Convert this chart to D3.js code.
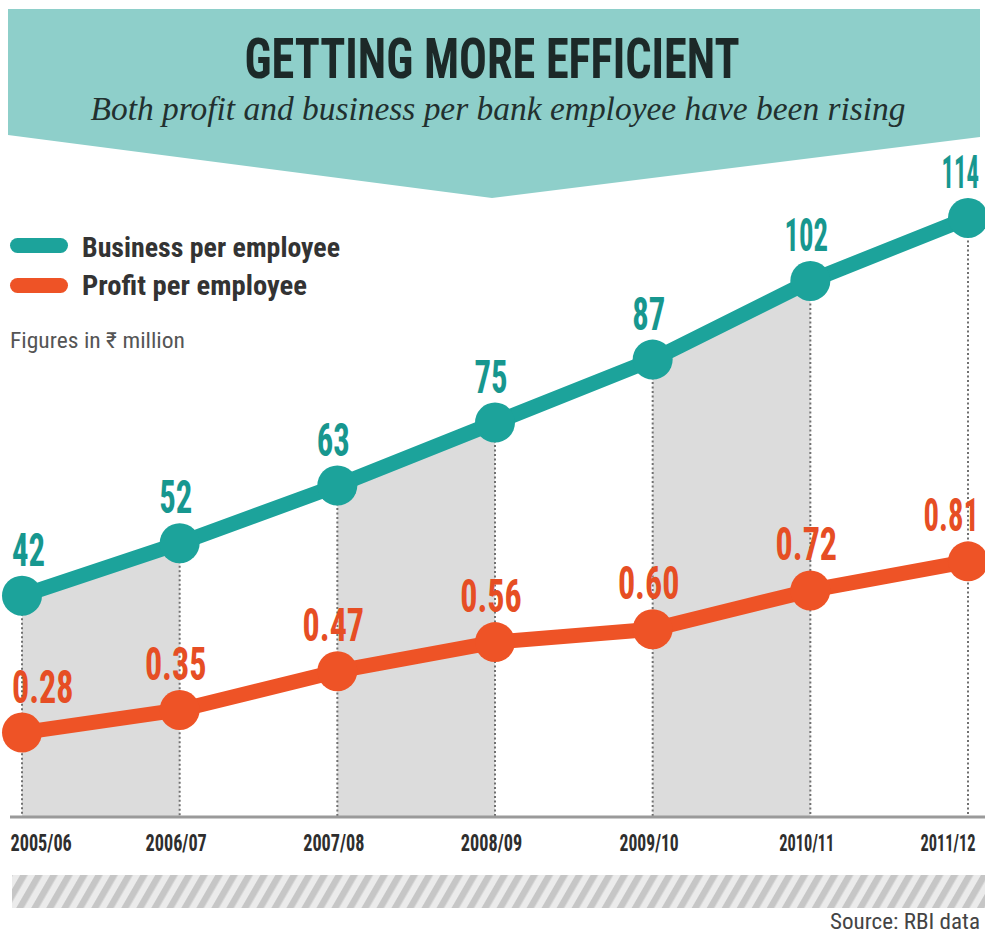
<!DOCTYPE html>
<html>
<head>
<meta charset="utf-8">
<script src="https://cdn.jsdelivr.net/npm/d3@7/dist/d3.min.js"></script>
<style>
  html, body { margin: 0; padding: 0; background: #ffffff; }
  svg { display: block; }
</style>
</head>
<body>
<div id="chart"></div>
<script>
// Financial years on the x axis
const years = ['2005/06', '2006/07', '2007/08', '2008/09', '2009/10', '2010/11', '2011/12'];
// Business per employee, ₹ million
const businessPerEmployee = [42, 52, 63, 75, 87, 102, 114];
// Profit per employee, ₹ million
const profitPerEmployee = [0.28, 0.35, 0.47, 0.56, 0.60, 0.72, 0.81];

const seriesNames = ['Business per employee', 'Profit per employee'];
const titleText = 'GETTING MORE EFFICIENT';
const subtitleText = 'Both profit and business per bank employee have been rising';
const unitNote = 'Figures in ₹ million';
const sourceText = 'Source: RBI data';

const W = 985, H = 933;
const TEAL = '#1ca39b', TEAL_TXT = '#17978f', ORANGE = '#ee5326', ORANGE_TXT = '#e64e24';
const BANNER = '#8ecfca';
const NARROW = "'Liberation Sans Narrow', 'Roboto Condensed', 'DejaVu Sans Condensed', 'Liberation Sans', sans-serif";

const baseY = 816;

const svg = d3.select('#chart').append('svg')
  .attr('width', W).attr('height', H)
  .attr('viewBox', `0 0 ${W} ${H}`);

const defs = svg.append('defs');
const hatch = defs.append('pattern')
  .attr('id', 'hatch')
  .attr('patternUnits', 'userSpaceOnUse')
  .attr('width', 13).attr('height', 13)
  .attr('patternTransform', 'rotate(30)');
hatch.append('rect').attr('width', 13).attr('height', 13).attr('fill', '#ebebeb');
hatch.append('rect').attr('width', 6.5).attr('height', 13).attr('fill', '#c6c6c6');

// Scales
const x = d3.scalePoint().domain(years).range([22, 968]);
const yBiz = d3.scaleLinear().domain([0, 120]).range([baseY, 186.5]);
const yProfit = d3.scaleLinear().domain([0, 1]).range([823, 500]);

// Approximate glyph widths for fitting condensed text to a set length
function fitLen(str, w) {
  let s = 0;
  for (const ch of str) s += (w[ch] !== undefined ? w[ch] : w.def);
  return s;
}
const labelW = { def: 16.5, '1': 10.5, '.': 12 };
const tickW = { def: 9.3, '1': 7.2, '/': 5.5 };

// Banner
const bannerPts = [[8, 9], [980, 9], [980, 137], [492, 198], [8, 135]];
svg.append('path')
  .attr('d', d3.line()(bannerPts) + 'Z')
  .attr('fill', BANNER);

svg.append('text')
  .attr('x', 492).attr('y', 78)
  .attr('text-anchor', 'middle')
  .attr('font-family', NARROW)
  .attr('font-weight', 'bold')
  .attr('font-size', 55)
  .attr('fill', '#1c2928')
  .attr('textLength', 495)
  .attr('lengthAdjust', 'spacingAndGlyphs')
  .text(titleText);

svg.append('text')
  .attr('x', 498).attr('y', 120)
  .attr('text-anchor', 'middle')
  .attr('font-family', "'Liberation Serif', 'DejaVu Serif', serif")
  .attr('font-style', 'italic')
  .attr('font-size', 34)
  .attr('fill', '#22302f')
  .attr('textLength', 815)
  .attr('lengthAdjust', 'spacingAndGlyphs')
  .text(subtitleText);

// Legend
const legend = svg.append('g');
const legendRows = [
  { name: seriesNames[0], color: TEAL, cy: 245.5, base: 257, len: 258 },
  { name: seriesNames[1], color: ORANGE, cy: 285.5, base: 295, len: 225 }
];
legendRows.forEach(r => {
  legend.append('rect')
    .attr('x', 10).attr('y', r.cy - 7.5)
    .attr('width', 58).attr('height', 15)
    .attr('rx', 7.5)
    .attr('fill', r.color);
  legend.append('text')
    .attr('x', 82).attr('y', r.base)
    .attr('font-family', NARROW)
    .attr('font-weight', 'bold')
    .attr('font-size', 27)
    .attr('fill', '#333333')
    .attr('textLength', r.len)
    .attr('lengthAdjust', 'spacingAndGlyphs')
    .text(r.name);
});
legend.append('text')
  .attr('x', 10).attr('y', 348)
  .attr('font-family', NARROW)
  .attr('font-size', 22)
  .attr('fill', '#555555')
  .attr('textLength', 175)
  .attr('lengthAdjust', 'spacingAndGlyphs')
  .text(unitNote);

// Alternate shaded bands under the business line
const bizData = years.map((yr, i) => ({ yr, v: businessPerEmployee[i] }));
const profData = years.map((yr, i) => ({ yr, v: profitPerEmployee[i] }));
const band = d3.area()
  .x(d => x(d.yr))
  .y0(baseY)
  .y1(d => yBiz(d.v));
[0, 2, 4].forEach(i => {
  svg.append('path')
    .attr('d', band(bizData.slice(i, i + 2)))
    .attr('fill', '#dcdcdc');
});

// Dotted drop lines
svg.append('g').selectAll('line')
  .data(bizData)
  .join('line')
  .attr('x1', d => x(d.yr)).attr('x2', d => x(d.yr))
  .attr('y1', d => yBiz(d.v)).attr('y2', baseY)
  .attr('stroke', '#707070')
  .attr('stroke-width', 2)
  .attr('stroke-dasharray', '2 2.5');

// Axis
svg.append('line')
  .attr('x1', 10).attr('x2', 985)
  .attr('y1', baseY + 1).attr('y2', baseY + 1)
  .attr('stroke', '#9a9a9a')
  .attr('stroke-width', 3);

const axis = svg.append('g')
  .attr('transform', `translate(0, ${baseY})`)
  .call(d3.axisBottom(x).tickSize(0).tickPadding(0));
axis.select('.domain').remove();
axis.selectAll('.tick text')
  .attr('dy', null)
  .attr('y', 35)
  .attr('font-family', NARROW)
  .attr('font-weight', 'bold')
  .attr('font-size', 23)
  .attr('fill', '#2e2e2e')
  .attr('textLength', d => fitLen(d, tickW))
  .attr('lengthAdjust', 'spacingAndGlyphs')
  .each(function (d, i) {
    const t = d3.select(this);
    const last = years.length - 1;
    if (i === 0) t.attr('text-anchor', 'start').attr('x', 10 - x(d));
    else if (i === last) t.attr('text-anchor', 'end').attr('x', 975 - x(d));
    else t.attr('text-anchor', 'middle').attr('x', -4);
  });

// Lines and markers
const seriesDefs = [
  { data: bizData, y: yBiz, color: TEAL, txt: TEAL_TXT, fmt: d3.format('d') },
  { data: profData, y: yProfit, color: ORANGE, txt: ORANGE_TXT, fmt: d3.format('.2f') }
];
seriesDefs.forEach(s => {
  const line = d3.line().x(d => x(d.yr)).y(d => s.y(d.v));
  svg.append('path')
    .attr('d', line(s.data))
    .attr('fill', 'none')
    .attr('stroke', s.color)
    .attr('stroke-width', 15)
    .attr('stroke-linejoin', 'round');
  svg.append('g').selectAll('circle')
    .data(s.data)
    .join('circle')
    .attr('cx', d => x(d.yr))
    .attr('cy', d => s.y(d.v))
    .attr('r', 20)
    .attr('fill', s.color);
});

// Value labels
seriesDefs.forEach(s => {
  const last = s.data.length - 1;
  svg.append('g').selectAll('text')
    .data(s.data)
    .join('text')
    .attr('x', (d, i) => i === 0 ? 12 : i === last ? 979 : x(d.yr) - 4)
    .attr('y', d => s.y(d.v) - 30)
    .attr('text-anchor', (d, i) => i === 0 ? 'start' : i === last ? 'end' : 'middle')
    .attr('font-family', NARROW)
    .attr('font-weight', 'bold')
    .attr('font-size', 46)
    .attr('fill', s.txt)
    .attr('textLength', d => fitLen(s.fmt(d.v), labelW))
    .attr('lengthAdjust', 'spacingAndGlyphs')
    .text(d => s.fmt(d.v));
});

// Hatched footer band and source line
svg.append('rect')
  .attr('x', 12).attr('y', 875)
  .attr('width', 973).attr('height', 33)
  .attr('fill', 'url(#hatch)');

svg.append('text')
  .attr('x', 980).attr('y', 929)
  .attr('text-anchor', 'end')
  .attr('font-family', NARROW)
  .attr('font-size', 22)
  .attr('fill', '#444444')
  .attr('textLength', 150)
  .attr('lengthAdjust', 'spacingAndGlyphs')
  .text(sourceText);
</script>
</body>
</html>
